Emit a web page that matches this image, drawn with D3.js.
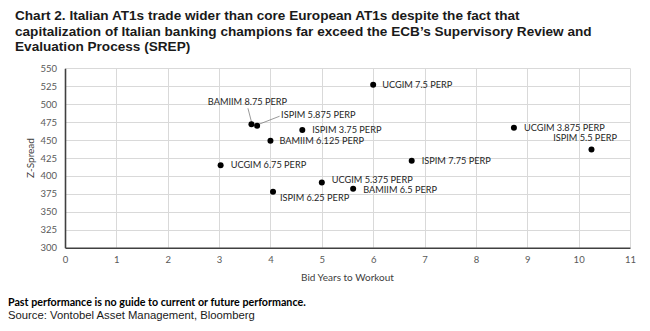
<!DOCTYPE html>
<html>
<head>
<meta charset="utf-8">
<script src="https://cdn.jsdelivr.net/npm/d3@7"></script>
<style>
  html, body { margin: 0; padding: 0; background: #fff; }
  svg { display: block; }
</style>
</head>
<body>
<svg id="chart" width="650" height="331"></svg>
<script>
// Italian AT1 bonds: years to workout vs Z-spread
const bonds = [
  "UCGIM 7.5 PERP", "BAMIIM 8.75 PERP", "ISPIM 5.875 PERP", "ISPIM 3.75 PERP",
  "BAMIIM 6.125 PERP", "UCGIM 6.75 PERP", "UCGIM 5.375 PERP", "BAMIIM 6.5 PERP",
  "ISPIM 6.25 PERP", "ISPIM 7.75 PERP", "UCGIM 3.875 PERP", "ISPIM 5.5 PERP"
];
const yearsToWorkout = [6.0, 3.63, 3.74, 4.62, 4.0, 3.03, 5.0, 5.61, 4.05, 6.75, 8.74, 10.25];
const zSpread = [527, 472, 470, 464, 449, 415, 391, 382, 378, 421, 467, 437];

const xTicks = [0, 1, 2, 3, 4, 5, 6, 7, 8, 9, 10, 11];
const yTicks = [300, 325, 350, 375, 400, 425, 450, 475, 500, 525, 550];

const titleLines = [
  "Chart 2. Italian AT1s trade wider than core European AT1s despite the fact that",
  "capitalization of Italian banking champions far exceed the ECB\u2019s Supervisory Review and",
  "Evaluation Process (SREP)"
];
const xTitle = "Bid Years to Workout";
const yTitle = "Z-Spread";
const note = "Past performance is no guide to current or future performance.";
const source = "Source: Vontobel Asset Management, Bloomberg";

// label placement relative to each dot (px); leader marks a callout line
const labelPlacement = {
  "UCGIM 7.5 PERP":    { dx: 9,  dy: 0 },
  "BAMIIM 8.75 PERP":  { dx: -4, dy: -22.5, anchor: "middle", leader: [[-3.5, -16], [0, -2.5]] },
  "ISPIM 5.875 PERP":  { dx: 24, dy: -10.5, leader: [[22.5, -9.5], [2, -1.5]] },
  "ISPIM 3.75 PERP":   { dx: 10, dy: 0 },
  "BAMIIM 6.125 PERP": { dx: 9,  dy: 0.5 },
  "UCGIM 6.75 PERP":   { dx: 10, dy: 0 },
  "UCGIM 5.375 PERP":  { dx: 10, dy: -2.5 },
  "BAMIIM 6.5 PERP":   { dx: 10, dy: 0.8 },
  "ISPIM 6.25 PERP":   { dx: 7,  dy: 6 },
  "ISPIM 7.75 PERP":   { dx: 10, dy: 0 },
  "UCGIM 3.875 PERP":  { dx: 10, dy: -0.5 },
  "ISPIM 5.5 PERP":    { dx: 25.5, dy: -11.5, anchor: "end" }
};

const points = bonds.map((name, i) => ({ name, x: yearsToWorkout[i], y: zSpread[i] }));

const svg = d3.select("#chart");
const margin = { left: 65, right: 20, top: 68.3, bottom: 83.3 };
const W = 650, H = 331;

const x = d3.scaleLinear().domain([0, 11]).range([margin.left, W - margin.right]);
const y = d3.scaleLinear().domain([300, 550]).range([H - margin.bottom, margin.top]);

const calibri = "Lato, Carlito, Calibri, sans-serif";
const arial = "'Liberation Sans', Arial, sans-serif";

// title
svg.append("g").selectAll("text").data(titleLines).join("text")
  .attr("x", 15)
  .attr("y", (d, i) => 20 + i * 15.7)
  .attr("font-family", arial)
  .attr("font-weight", "bold")
  .attr("font-size", 13.6)
  .attr("fill", "#1a1a1a")
  .text(d => d);

// gridlines
const grid = svg.append("g").attr("stroke", "#d9d9d9").attr("stroke-width", 1);
grid.selectAll("line.v").data(xTicks.slice(1)).join("line")
  .attr("x1", d => Math.round(x(d)) + 0.5).attr("x2", d => Math.round(x(d)) + 0.5)
  .attr("y1", y(550)).attr("y2", y(300));
grid.selectAll("line.h").data(yTicks.slice(1)).join("line")
  .attr("x1", x(0)).attr("x2", x(11))
  .attr("y1", d => Math.round(y(d)) + 0.5).attr("y2", d => Math.round(y(d)) + 0.5);

// axes
const xAxis = d3.axisBottom(x).tickValues(xTicks).tickSize(0).tickPadding(9).tickFormat(d3.format("d"));
const yAxis = d3.axisLeft(y).tickValues(yTicks).tickSize(0).tickPadding(8).tickFormat(d3.format("d"));

const gx = svg.append("g").attr("transform", `translate(0,${y(300)})`).call(xAxis);
const gy = svg.append("g").attr("transform", `translate(${x(0)},0)`).call(yAxis);

[gx, gy].forEach(g => {
  g.select(".domain").attr("stroke", "#404040").attr("stroke-width", 1.6);
  g.selectAll("text")
    .attr("font-family", calibri)
    .attr("font-size", 9.5)
    .attr("fill", "#595959");
});

// axis titles
svg.append("text")
  .attr("x", (x(0) + x(11)) / 2)
  .attr("y", 280.5)
  .attr("text-anchor", "middle")
  .attr("font-family", calibri)
  .attr("font-size", 10)
  .attr("fill", "#404040")
  .text(xTitle);

svg.append("text")
  .attr("transform", `translate(34,${(y(300) + y(550)) / 2}) rotate(-90)`)
  .attr("text-anchor", "middle")
  .attr("font-family", calibri)
  .attr("font-size", 10)
  .attr("fill", "#404040")
  .text(yTitle);

// leader lines
const leaders = svg.append("g").attr("stroke", "#7f7f7f").attr("stroke-width", 0.8).attr("fill", "none");
points.forEach(p => {
  const lp = labelPlacement[p.name];
  if (lp && lp.leader) {
    const [a, b] = lp.leader;
    leaders.append("line")
      .attr("x1", x(p.x) + a[0]).attr("y1", y(p.y) + a[1])
      .attr("x2", x(p.x) + b[0]).attr("y2", y(p.y) + b[1]);
  }
});

// dots
svg.append("g").selectAll("circle").data(points).join("circle")
  .attr("cx", d => x(d.x))
  .attr("cy", d => y(d.y))
  .attr("r", 3)
  .attr("fill", "#000");

// dot labels
svg.append("g").selectAll("text").data(points).join("text")
  .attr("x", d => x(d.x) + labelPlacement[d.name].dx)
  .attr("y", d => y(d.y) + labelPlacement[d.name].dy)
  .attr("dy", "0.35em")
  .attr("text-anchor", d => labelPlacement[d.name].anchor || "start")
  .attr("font-family", calibri)
  .attr("font-size", 9.2)
  .attr("fill", "#262626")
  .text(d => d.name);

// footnotes
svg.append("text")
  .attr("x", 8).attr("y", 306)
  .attr("font-family", calibri)
  .attr("font-weight", "bold")
  .attr("font-size", 10.7)
  .attr("fill", "#000")
  .text(note);

svg.append("text")
  .attr("x", 8).attr("y", 318.5)
  .attr("font-family", arial)
  .attr("font-size", 11.3)
  .attr("fill", "#1a1a1a")
  .text(source);
</script>
</body>
</html>
